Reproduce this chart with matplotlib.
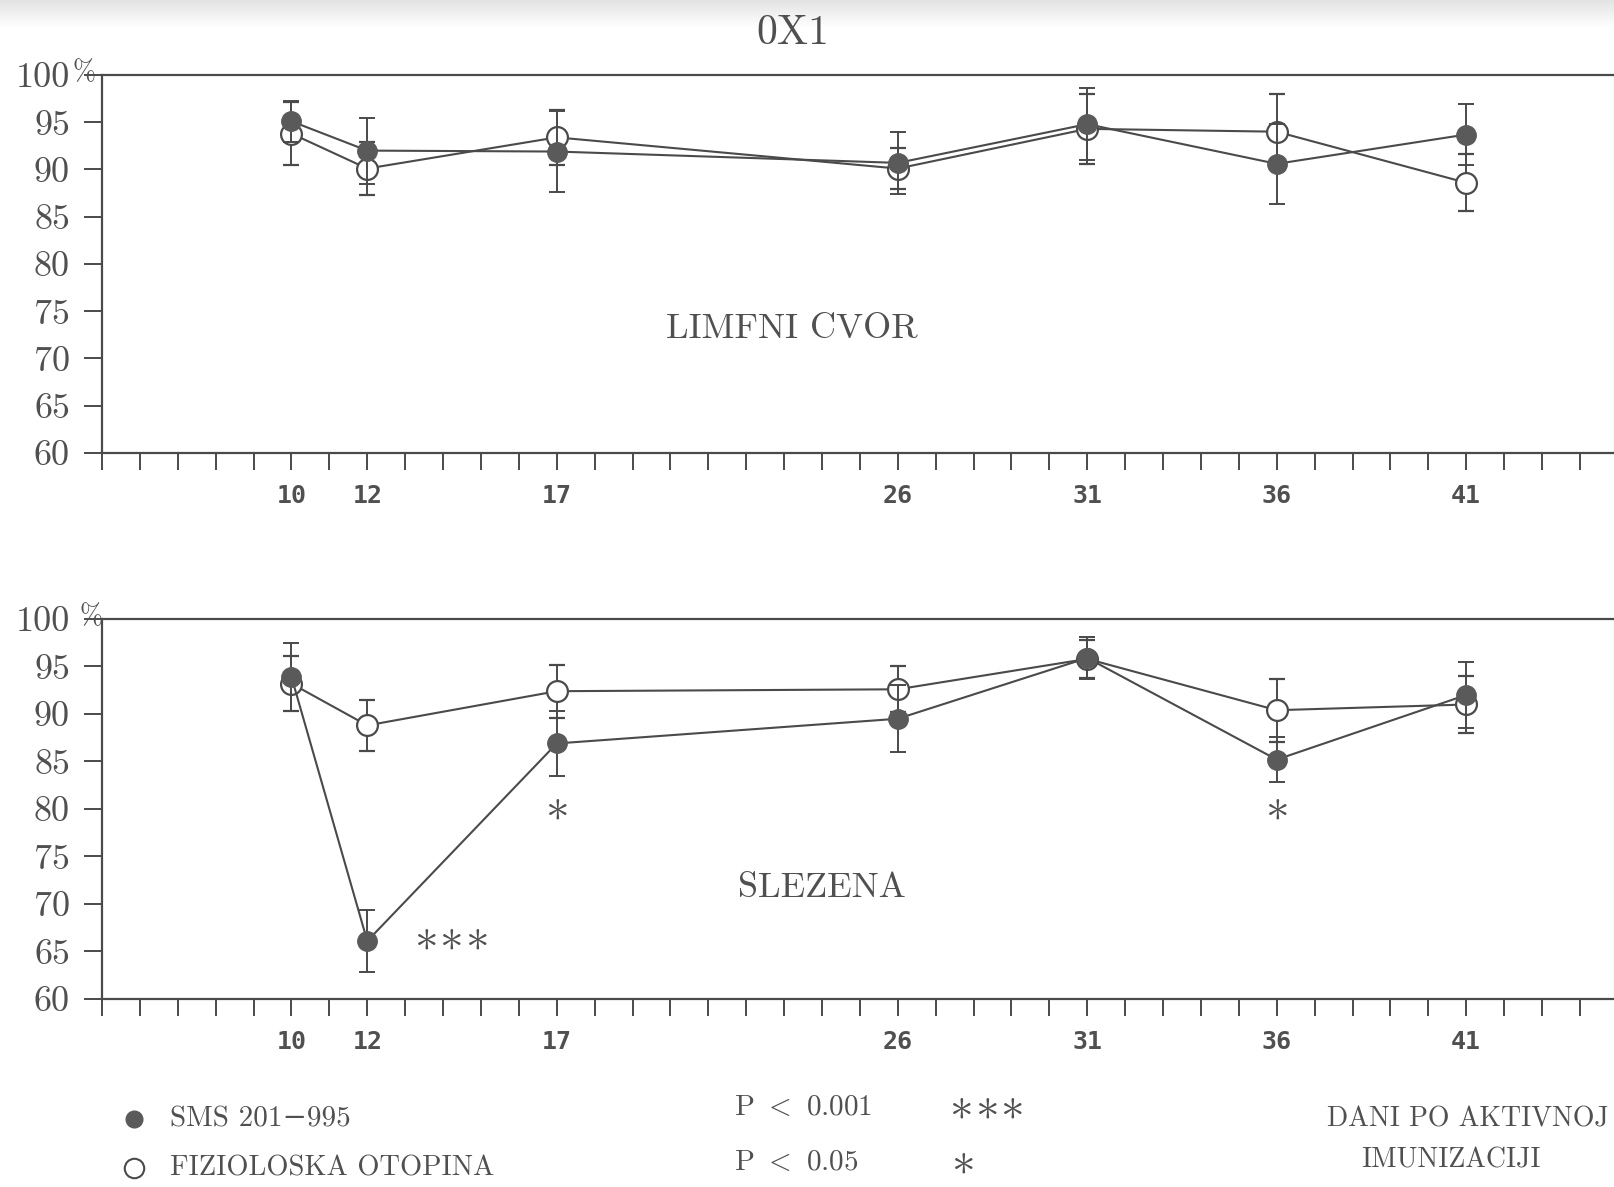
import numpy as np
import matplotlib
matplotlib.use('Agg')
import matplotlib.pyplot as plt
from matplotlib.ticker import FixedLocator, FixedFormatter
from matplotlib.transforms import offset_copy

# days after active immunisation
days = [10, 12, 17, 26, 31, 36, 41]

# LIMFNI CVOR (lymph node)
sms_ln = [95.1, 92.0, 91.9, 90.7, 94.8, 90.6, 93.7]
sms_ln_err = [2.2, 3.5, 4.3, 3.3, 3.8, 4.2, 3.2]
fiz_ln = [93.8, 90.1, 93.4, 90.1, 94.3, 94.0, 88.6]
fiz_ln_err = [3.3, 2.8, 2.9, 2.2, 3.7, 4.0, 3.0]

# SLEZENA (spleen)
sms_sp = [93.9, 66.1, 86.9, 89.5, 95.9, 85.2, 92.0]
sms_sp_err = [3.6, 3.3, 3.4, 3.5, 2.2, 2.4, 3.5]
fiz_sp = [93.2, 88.8, 92.4, 92.6, 95.8, 90.4, 91.0]
fiz_sp_err = [2.9, 2.7, 2.8, 2.4, 2.0, 3.3, 3.0]

# significance marks in the spleen panel: (day, y, number of stars)
sig_marks = [(14.2, 66.5, 3), (17, 80.2, 1), (36, 80.2, 1)]

y_ticks = [60, 65, 70, 75, 80, 85, 90, 95, 100]
y_labels = ['60', '65', '70', '75', '80', '85', '90', '95', '100']

INK = '#4a4a4a'
TXT = '#505050'
SERIF = ['cmr10', 'DejaVu Serif']
STAR_FS = 34
STAR_GAP = 18.5   # points between neighbouring stars

plt.rcParams['mathtext.fontset'] = 'cm'
plt.rcParams['axes.formatter.use_mathtext'] = True

W, H = 1614, 1187
fig = plt.figure(figsize=(W / 100, H / 100), dpi=100)
fig.patch.set_facecolor('white')


def fx(px):
    return px / W


def fy(py):
    return 1 - py / H


def stars(trans, x, y, n):
    # one centred math asterisk per star
    for i in range(n):
        dx = (i - (n - 1) / 2) * STAR_GAP
        t = offset_copy(trans, fig=fig, x=dx, y=0, units='points')
        fig.text(x, y, r'$\ast$', transform=t, ha='center', va='center',
                 fontsize=STAR_FS, color=TXT)


# faint scanner shading along the top edge
band = fig.add_axes([0, fy(28), 1, 28 / H])
band.imshow(np.linspace(0.89, 1.0, 50).reshape(-1, 1), cmap='gray', vmin=0, vmax=1,
            aspect='auto', extent=(0, 1, 0, 1))
band.axis('off')


def panel(rect, sms, sms_err, fiz, fiz_err, name, name_xy, pct_dx):
    ax = fig.add_axes(rect)
    ax.set_xlim(5, 44.9)
    ax.set_ylim(60, 100)
    for s in ['left', 'bottom', 'top']:
        ax.spines[s].set_linewidth(1.6)
        ax.spines[s].set_color(INK)
    ax.spines['right'].set_color('#dedede')
    ax.spines['right'].set_linewidth(1.0)

    # saline (open circles) under SMS (filled)
    ax.errorbar(days, fiz, yerr=fiz_err, color=INK, lw=1.5, elinewidth=1.4,
                capsize=5.5, capthick=1.4, marker='o', ms=15, mfc='white',
                mec=INK, mew=1.6, zorder=3)
    ax.errorbar(days, sms, yerr=sms_err, color=INK, lw=1.5, elinewidth=1.4,
                capsize=5.5, capthick=1.4, marker='o', ms=14, mfc='#5a5a5a',
                mec='#5a5a5a', zorder=4)

    ax.xaxis.set_major_locator(FixedLocator(list(range(5, 45))))
    ax.xaxis.set_major_formatter(FixedFormatter(
        [str(d) if d in days else '' for d in range(5, 45)]))
    ax.set_yticks(y_ticks)
    ax.set_yticklabels(y_labels)
    ax.tick_params(axis='x', direction='out', length=12, width=1.4, color=INK,
                   pad=10, labelsize=18, labelcolor=TXT)
    ax.tick_params(axis='y', direction='out', length=13, width=1.4, color=INK,
                   pad=10, labelsize=26, labelcolor=TXT)
    for lab in ax.get_xticklabels():
        lab.set_family('DejaVu Sans Mono')
        lab.set_fontweight('bold')
    for lab in ax.get_yticklabels():
        lab.set_family(SERIF)
    ax.text(pct_dx, 1.005, '%', transform=ax.transAxes, ha='left', va='center',
            fontsize=20, color=TXT, family=SERIF)
    ax.text(name_xy[0], name_xy[1], name, ha='center', va='center', fontsize=26,
            color=TXT, family=SERIF)
    return ax


ax1 = panel([fx(102), fy(453), 1 - fx(102), (453 - 75) / H],
            sms_ln, sms_ln_err, fiz_ln, fiz_ln_err, 'LIMFNI CVOR', (23.2, 73.1), -0.0198)
ax2 = panel([fx(102), fy(999), 1 - fx(102), (999 - 619) / H],
            sms_sp, sms_sp_err, fiz_sp, fiz_sp_err, 'SLEZENA', (24.0, 71.7), -0.0146)

for d, y, n in sig_marks:
    stars(ax2.transData, d, y, n)

fig.text(fx(793), fy(33), '0X1', ha='center', va='center', fontsize=30,
         color=TXT, family=SERIF)

# legend
fig.lines.append(plt.Line2D([fx(134)], [fy(1119)], marker='o', ms=12,
                            mfc='#5a5a5a', mec='#5a5a5a', transform=fig.transFigure))
fig.lines.append(plt.Line2D([fx(134)], [fy(1168)], marker='o', ms=14,
                            mfc='white', mec=INK, mew=1.5, transform=fig.transFigure))
fig.text(fx(170), fy(1119), 'SMS 201\u2212995', ha='left', va='center',
         fontsize=21, color=TXT, family=SERIF)
fig.text(fx(170), fy(1168), 'FIZIOLOSKA OTOPINA', ha='left', va='center',
         fontsize=20.5, color=TXT, family=SERIF)

fig.text(fx(734), fy(1108), 'P $<$ 0.001', ha='left', va='center',
         fontsize=21, color=TXT, family=SERIF)
fig.text(fx(734), fy(1163), 'P $<$ 0.05', ha='left', va='center',
         fontsize=21, color=TXT, family=SERIF)
stars(fig.transFigure, fx(986), fy(1106), 3)
stars(fig.transFigure, fx(962), fy(1161), 1)

fig.text(fx(1468), fy(1119), 'DANI PO AKTIVNOJ', ha='center', va='center',
         fontsize=20, color=TXT, family=SERIF)
fig.text(fx(1451), fy(1160), 'IMUNIZACIJI', ha='center', va='center',
         fontsize=20, color=TXT, family=SERIF)

fig.savefig('out.png', dpi=100)
